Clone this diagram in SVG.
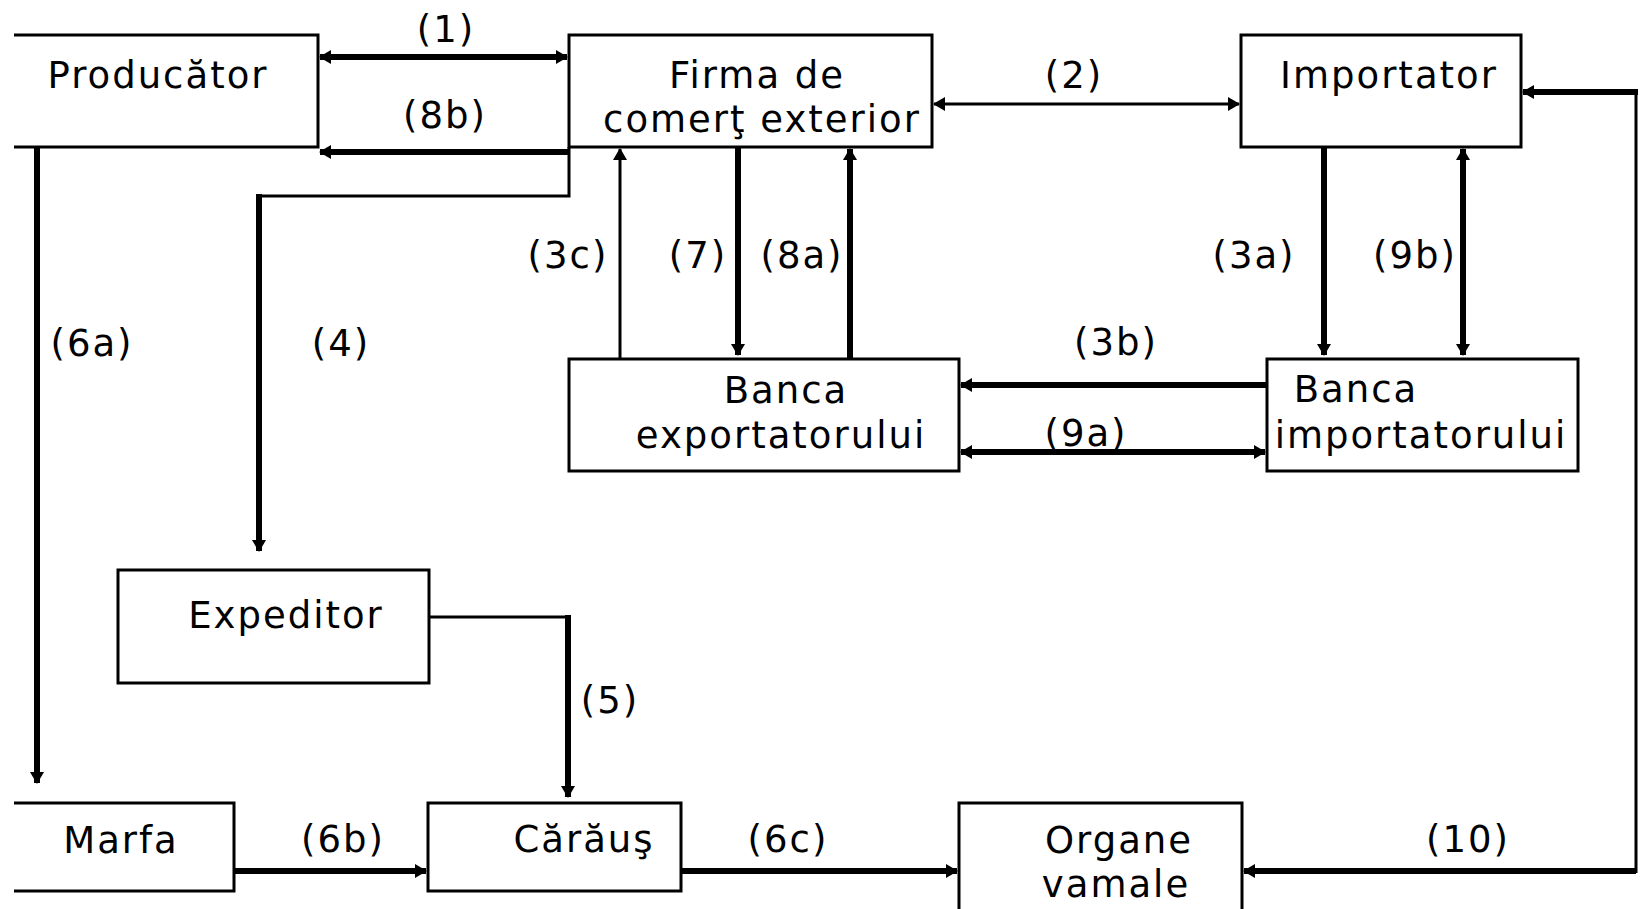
<svg xmlns="http://www.w3.org/2000/svg" width="1641" height="909" viewBox="0 0 1641 909">
<defs>
<style>
.box{fill:#fff;stroke:#000;stroke-width:3}
.edge{fill:none;stroke:#000;stroke-width:3}
.thin{fill:none;stroke:#000;stroke-width:3}
.thick{fill:none;stroke:#000;stroke-width:6}
text{font-family:"DejaVu Sans","Verdana",sans-serif;font-size:37px;letter-spacing:2px;fill:#000;text-anchor:middle}
</style>
<marker id="ah" viewBox="0 0 12 14" refX="11" refY="7" markerWidth="12" markerHeight="14" markerUnits="userSpaceOnUse" orient="auto-start-reverse">
<path d="M0,0 L12,7 L0,14 z" fill="#000"/>
</marker>
</defs>
<rect width="1641" height="909" fill="#fff"/>

<g id="producator">
<path class="edge" d="M14,35 H318 V147 H14"/>
<text x="158" y="88">Producător</text>
</g>
<g id="firma">
<rect class="box" x="569" y="35" width="363" height="112"/>
<text x="757" y="88">Firma de</text>
<text x="762" y="132">comerţ exterior</text>
</g>
<g id="importator">
<rect class="box" x="1241" y="35" width="280" height="112"/>
<text x="1389" y="88">Importator</text>
</g>
<g id="banca-exp">
<rect class="box" x="569" y="359" width="390" height="112"/>
<text x="786" y="403">Banca</text>
<text x="781" y="448">exportatorului</text>
</g>
<g id="banca-imp">
<rect class="box" x="1267" y="359" width="311" height="112"/>
<text x="1356" y="402">Banca</text>
<text x="1421" y="448">importatorului</text>
</g>
<g id="expeditor">
<rect class="box" x="118" y="570" width="311" height="113"/>
<text x="286" y="628">Expeditor</text>
</g>
<g id="marfa">
<path class="edge" d="M14,803 H234 V891 H14"/>
<text x="121" y="853">Marfa</text>
</g>
<g id="caraus">
<rect class="box" x="428" y="803" width="253" height="88"/>
<text x="584" y="852">Cărăuş</text>
</g>
<g id="organe">
<rect class="box" x="959" y="803" width="283" height="130"/>
<text x="1119" y="853">Organe</text>
<text x="1116" y="897">vamale</text>
</g>

<g id="connectors">
<path class="thick" d="M320,57 H567" marker-start="url(#ah)" marker-end="url(#ah)"/>
<path class="thick" d="M569,152 H320" marker-end="url(#ah)"/>
<path class="thin" d="M934,104 H1239" marker-start="url(#ah)" marker-end="url(#ah)"/>
<path class="thin" d="M569,147 V196 H259"/>
<path class="thick" d="M259,194 V551" marker-end="url(#ah)"/>
<path class="thick" d="M37,147 V783" marker-end="url(#ah)"/>
<path class="thin" d="M620,359 V149" marker-end="url(#ah)"/>
<path class="thick" d="M738,147 V355" marker-end="url(#ah)"/>
<path class="thick" d="M850,359 V149" marker-end="url(#ah)"/>
<path class="thick" d="M1324,147 V355" marker-end="url(#ah)"/>
<path class="thick" d="M1463,149 V355" marker-start="url(#ah)" marker-end="url(#ah)"/>
<path class="thick" d="M1267,385 H961" marker-end="url(#ah)"/>
<path class="thick" d="M961,452 H1265" marker-start="url(#ah)" marker-end="url(#ah)"/>
<path class="thick" d="M1636,871 H1244" marker-end="url(#ah)"/>
<path class="thin" d="M1636,873 V90"/>
<path class="thick" d="M1638,92 H1523" marker-end="url(#ah)"/>
<path class="thin" d="M429,617 H568"/>
<path class="thick" d="M568,615 V797" marker-end="url(#ah)"/>
<path class="thick" d="M234,871 H426" marker-end="url(#ah)"/>
<path class="thick" d="M681,871 H957" marker-end="url(#ah)"/>
<text x="446" y="42">(1)</text>
<text x="445" y="128">(8b)</text>
<text x="1074" y="88">(2)</text>
<text x="92" y="356">(6a)</text>
<text x="341" y="356">(4)</text>
<text x="568" y="268">(3c)</text>
<text x="698" y="268">(7)</text>
<text x="802" y="268">(8a)</text>
<text x="1254" y="268">(3a)</text>
<text x="1415" y="268">(9b)</text>
<text x="1116" y="355">(3b)</text>
<text x="1086" y="446">(9a)</text>
<text x="610" y="713">(5)</text>
<text x="343" y="852">(6b)</text>
<text x="788" y="852">(6c)</text>
<text x="1468" y="852">(10)</text>
</g>
</svg>
